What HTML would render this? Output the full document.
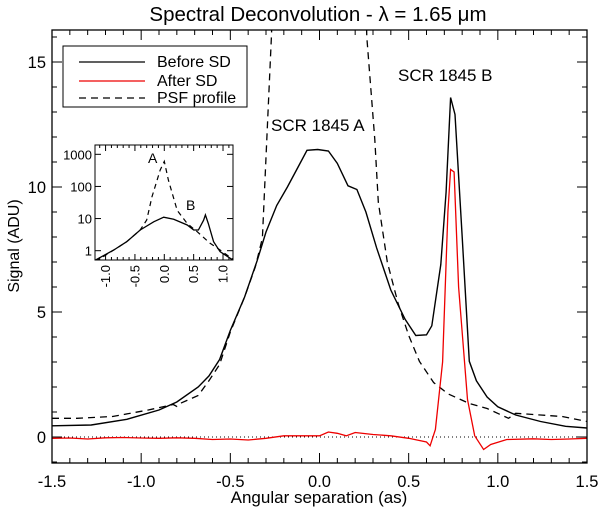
<!DOCTYPE html>
<html><head><meta charset="utf-8"><style>
html,body{margin:0;padding:0;background:#fff;}
svg{display:block;font-family:"Liberation Sans",Arial,sans-serif;}
</style></head><body>
<svg id="chart" width="600" height="509" viewBox="0 0 600 509">
<defs>
<clipPath id="mainclip"><rect x="52" y="30" width="535" height="433"/></clipPath>
<clipPath id="insetclip"><rect x="95" y="145" width="138" height="115"/></clipPath>
</defs>
<text x="318" y="21" font-size="20.5" text-anchor="middle">Spectral Deconvolution - λ = 1.65 μm</text>
<text transform="translate(19,246) rotate(-90)" font-size="16" text-anchor="middle">Signal (ADU)</text>
<text x="319" y="503" font-size="17" text-anchor="middle">Angular separation (as)</text>
<g id="axes"></g>
<g id="series" clip-path="url(#mainclip)"></g>
<rect x="52" y="30" width="535" height="433" fill="none" stroke="#000" stroke-width="1.3"/>
<text x="271" y="131" font-size="17">SCR 1845 A</text>
<text x="398" y="81" font-size="17">SCR 1845 B</text>
<g>
<rect x="63" y="46" width="184" height="61" fill="#fff" stroke="#000" stroke-width="1"/>
<line x1="79" y1="62" x2="145" y2="62" stroke="#000" stroke-width="1.3"/>
<text x="157" y="67" font-size="16">Before SD</text>
<line x1="79" y1="81" x2="145" y2="81" stroke="#e00" stroke-width="1.3"/>
<text x="157" y="86" font-size="16">After SD</text>
<line x1="79" y1="98" x2="145" y2="98" stroke="#000" stroke-width="1.3" stroke-dasharray="7,5"/>
<text x="157" y="103" font-size="16">PSF profile</text>
</g>
<rect x="95" y="145" width="138" height="115" fill="#fff" stroke="none"/>
<g id="inset-axes"></g>
<g id="inset-series" clip-path="url(#insetclip)"></g>
<rect x="95" y="145" width="138" height="115" fill="none" stroke="#000" stroke-width="1"/>
<text x="148" y="163" font-size="14">A</text>
<text x="186" y="210" font-size="14">B</text>
</svg>
<script>
const beforeX=[-1.5,-1.28,-1.08,-0.9,-0.8,-0.68,-0.62,-0.56,-0.5,-0.42,-0.35,-0.3,-0.24,-0.18,-0.12,-0.07,-0.01,0.05,0.1,0.16,0.21,0.26,0.32,0.4,0.48,0.54,0.6,0.63,0.68,0.71,0.735,0.76,0.8,0.84,0.88,0.94,1.0,1.1,1.24,1.38,1.5];
const beforeY=[0.45,0.48,0.71,1.08,1.4,2.0,2.44,3.1,4.26,5.6,7.05,8.2,9.26,10.0,10.8,11.47,11.5,11.44,10.95,10.05,9.9,9.0,7.57,5.88,4.71,4.06,4.09,4.45,6.9,9.8,13.58,12.9,8.0,3.03,2.25,1.6,1.21,0.88,0.62,0.43,0.36];
const psfX=[-1.5,-1.36,-1.16,-0.96,-0.82,-0.8,-0.78,-0.68,-0.62,-0.56,-0.5,-0.42,-0.36,-0.32,-0.29,-0.27,-0.25,0.25,0.265,0.31,0.33,0.38,0.44,0.5,0.56,0.64,0.72,0.84,0.94,1.06,1.1,1.24,1.36,1.5];
const psfY=[0.75,0.75,0.82,1.08,1.3,1.22,1.35,1.66,2.25,2.9,4.2,5.6,6.8,7.96,12.8,16.0,20,20,16.0,11.9,9.4,7.0,5.36,4.06,3.03,2.18,1.73,1.34,1.14,0.75,0.95,0.88,0.82,0.62];
const afterX=[-1.5,-1.4,-1.3,-1.2,-1.1,-1.0,-0.9,-0.8,-0.7,-0.6,-0.5,-0.4,-0.3,-0.2,-0.1,0.0,0.05,0.1,0.15,0.2,0.3,0.4,0.5,0.6,0.62,0.65,0.69,0.72,0.735,0.755,0.78,0.83,0.87,0.92,0.96,1.05,1.2,1.3,1.4,1.5];
const afterY=[-0.05,-0.04,-0.08,-0.03,-0.02,-0.04,-0.05,-0.03,-0.05,-0.1,-0.08,-0.12,-0.05,0.05,0.05,0.05,0.2,0.15,0.05,0.18,0.1,0.05,-0.05,-0.2,-0.35,0.3,3.0,9.0,10.7,10.6,6.0,1.5,0.05,-0.5,-0.3,-0.1,-0.07,-0.1,-0.08,-0.05];
const xTicks=[-1.5,-1.0,-0.5,0.0,0.5,1.0,1.5];
const xTickLabels=["-1.5","-1.0","-0.5","0.0","0.5","1.0","1.5"];
const yTicks=[0,5,10,15];
const yTickLabels=["0","5","10","15"];
const insetBeforeX=[-1.18,-1.15,-0.86,-0.64,-0.41,-0.18,-0.01,0.16,0.39,0.5,0.58,0.67,0.7,0.75,0.84,0.95,1.15,1.18];
const insetBeforeY=[0.5,0.54,1.05,1.9,4.4,7.9,11,9.5,6.3,4.4,4.4,8.9,13,7,1.9,0.93,0.54,0.5];
const insetPsfX=[-1.18,-1.09,-0.86,-0.64,-0.41,-0.3,-0.21,-0.07,0,0.07,0.22,0.39,0.56,0.78,0.95,1.15,1.18];
const insetPsfY=[0.5,0.57,1.05,1.9,4.4,9,48,325,600,158,18,7,3.9,1.7,1.05,0.57,0.52];
const insetXTicks=[-1.0,-0.5,0.0,0.5,1.0];
const insetXTickLabels=["-1.0","-0.5","0.0","0.5","1.0"];
const insetYTicks=[1,10,100,1000];
const insetYTickLabels=["1","10","100","1000"];

const NS="http://www.w3.org/2000/svg";
const L=52,R=587,T=30,B=463,XMIN=-1.5,XMAX=1.5,YMIN=-1.04,YMAX=16.28;
function sx(v){return L+(v-XMIN)/(XMAX-XMIN)*(R-L);}
function sy(v){return B-(v-YMIN)/(YMAX-YMIN)*(B-T);}
const IL=95,IR=233,IT=145,IB=260,IXMIN=-1.18,IXMAX=1.17,ILMIN=-0.29,ILMAX=3.29;
function ix(v){return IL+(v-IXMIN)/(IXMAX-IXMIN)*(IR-IL);}
function iy(v){return IB-(Math.log10(v)-ILMIN)/(ILMAX-ILMIN)*(IB-IT);}
function mk(tag,attrs,parent){const e=document.createElementNS(NS,tag);for(const k in attrs)e.setAttribute(k,attrs[k]);parent.appendChild(e);return e;}
function pathD(xs,ys,fx,fy){return xs.map((x,i)=>(i?"L":"M")+fx(x).toFixed(1)+","+fy(ys[i]).toFixed(1)).join(" ");}

const axes=document.getElementById("axes");
for(let k=-15;k<=15;k++){
  const v=k/10,maj=(k%5===0),len=maj?10:5,X=sx(v);
  const t1=mk("line",{x1:X,y1:B,x2:X,y2:B-len,stroke:"#000","stroke-width":1},axes);
  
  
  const t2=mk("line",{x1:X,y1:T,x2:X,y2:T+len,stroke:"#000","stroke-width":1},axes);
  
  
}
xTicks.forEach((v,i)=>{
  const t=mk("text",{x:sx(v),y:487,"font-size":16.5,"text-anchor":"middle"},axes);
  t.textContent=xTickLabels[i];
  
  
});
for(let k=-1;k<=16;k++){
  const maj=(k%5===0),len=maj?10:5,Y=sy(k);
  const t1=mk("line",{x1:L,y1:Y,x2:L+len,y2:Y,stroke:"#000","stroke-width":1},axes);
  
  
  const t2=mk("line",{x1:R,y1:Y,x2:R-len,y2:Y,stroke:"#000","stroke-width":1},axes);
  
  
}
yTicks.forEach((v,i)=>{
  const t=mk("text",{x:46,y:sy(v)+6,"font-size":16.5,"text-anchor":"end"},axes);
  t.textContent=yTickLabels[i];
  
  
});

const ser=document.getElementById("series");
const zl=mk("line",{x1:L,y1:sy(0),x2:R,y2:sy(0),stroke:"#000","stroke-width":1,"stroke-dasharray":"1,3"},ser);


const p1=mk("path",{d:pathD(psfX,psfY,sx,sy),fill:"none",stroke:"#000","stroke-width":1.3,"stroke-dasharray":"7,5"},ser);


const p2=mk("path",{d:pathD(beforeX,beforeY,sx,sy),fill:"none",stroke:"#000","stroke-width":1.4},ser);


const p3=mk("path",{d:pathD(afterX,afterY,sx,sy),fill:"none",stroke:"#e00","stroke-width":1.3},ser);



const ia=document.getElementById("inset-axes");
for(let k=-11;k<=11;k++){
  const v=k/10,maj=(k%5===0),len=maj?6:3,X=ix(v);
  const t1=mk("line",{x1:X,y1:IB,x2:X,y2:IB-len,stroke:"#000","stroke-width":1},ia);
  
  
  const t2=mk("line",{x1:X,y1:IT,x2:X,y2:IT+len,stroke:"#000","stroke-width":1},ia);
  
  
}
insetXTicks.forEach((v,i)=>{
  const t=mk("text",{transform:"translate("+(ix(v)+4.5)+",265) rotate(-90)","font-size":13,"text-anchor":"end"},ia);
  t.textContent=insetXTickLabels[i];
  
  
});
insetYTicks.forEach((v,i)=>{
  const Y=iy(v);
  const t1=mk("line",{x1:IL,y1:Y,x2:IL+6,y2:Y,stroke:"#000","stroke-width":1},ia);
  
  
  const t2=mk("line",{x1:IR,y1:Y,x2:IR-6,y2:Y,stroke:"#000","stroke-width":1},ia);
  
  
  const t=mk("text",{x:IL-3,y:Y+5,"font-size":13,"text-anchor":"end"},ia);
  t.textContent=insetYTickLabels[i];
  
  
});
const is=document.getElementById("inset-series");
const q1=mk("path",{d:pathD(insetPsfX,insetPsfY,ix,iy),fill:"none",stroke:"#000","stroke-width":1.2,"stroke-dasharray":"5,4"},is);


const q2=mk("path",{d:pathD(insetBeforeX,insetBeforeY,ix,iy),fill:"none",stroke:"#000","stroke-width":1.3},is);


</script>
</body></html>
